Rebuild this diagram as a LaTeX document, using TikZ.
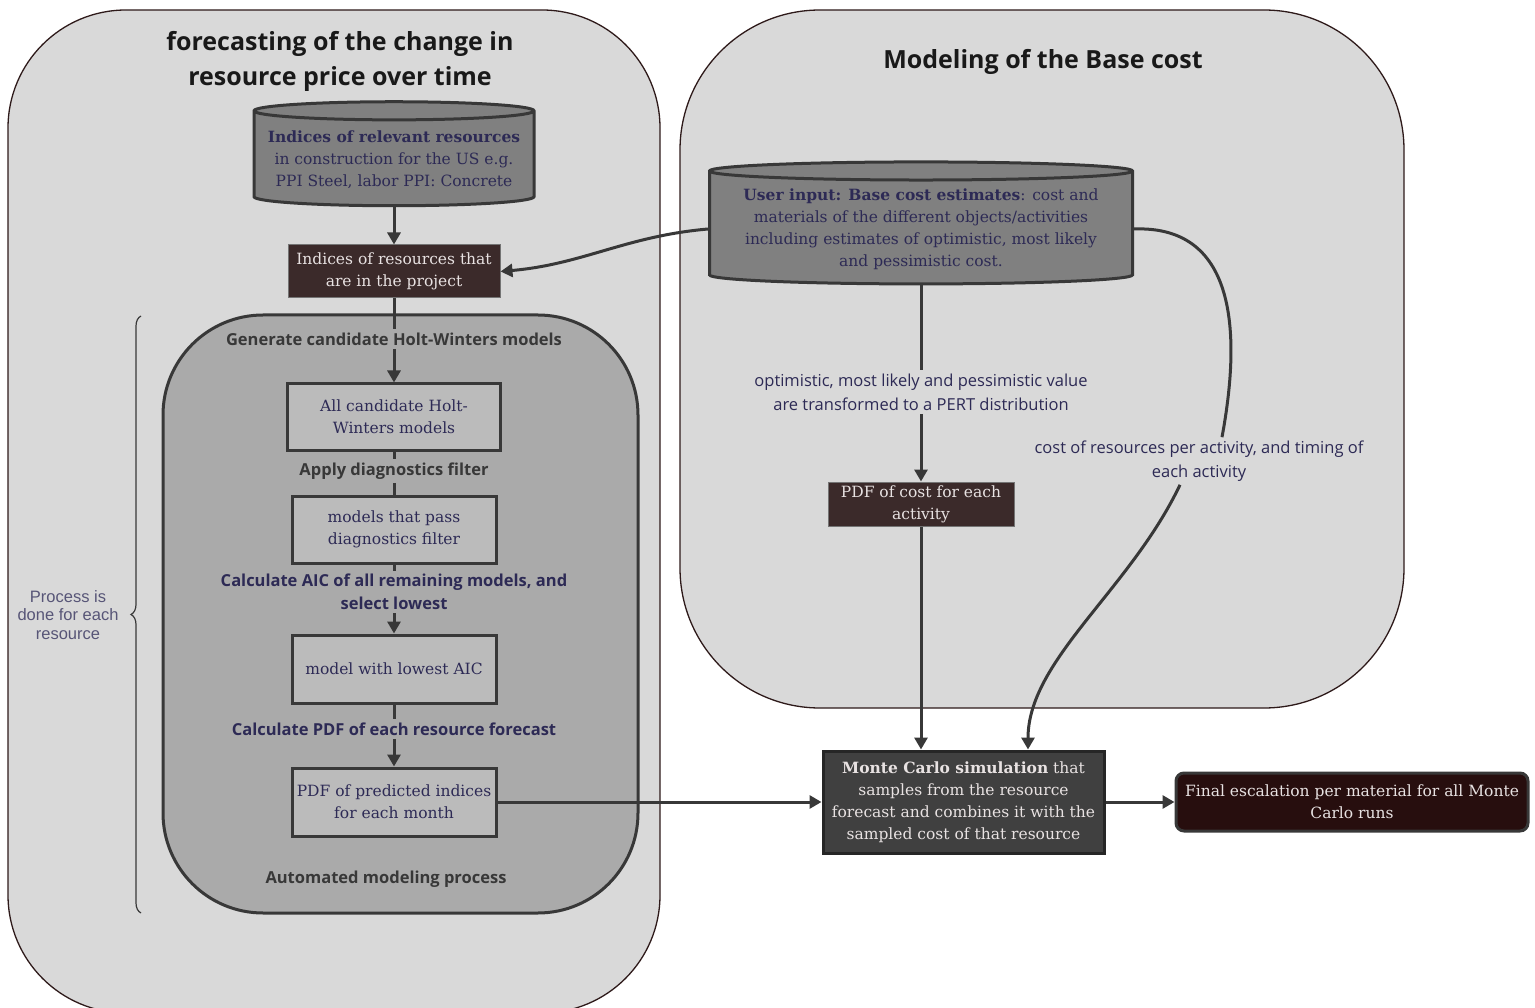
\documentclass[tikz,border=0pt]{standalone}
\usepackage{fontspec}
\setmainfont{DejaVu Serif}
\setsansfont{Open Sans}
\newfontfamily\arialfont{Liberation Sans}
\usepackage{tikz}
\usetikzlibrary{shapes,arrows.meta,positioning,decorations.pathreplacing}
\definecolor{panelbg}{HTML}{D9D9D9}
\definecolor{panelline}{HTML}{2E1A1A}
\definecolor{innerbg}{HTML}{AAAAAA}
\definecolor{darkline}{HTML}{383838}
\definecolor{dbfill}{HTML}{808080}
\definecolor{boxfill}{HTML}{BBBBBB}
\definecolor{brownbox}{HTML}{3B2A2A}
\definecolor{mcfill}{HTML}{404040}
\definecolor{finalfill}{HTML}{270E0E}
\definecolor{navy}{HTML}{2D2A55}
\definecolor{lighttext}{HTML}{E8E2E2}

\begin{document}
\begin{tikzpicture}[
    x=1pt, y=-1pt,
    panel/.style={draw=panelline, fill=panelbg, line width=1.3pt},
    inner/.style={draw=darkline, fill=innerbg, line width=3pt, rounded corners=100pt},
    db/.style={cylinder, shape border rotate=90, draw=darkline, fill=dbfill, line width=3pt, text=navy, align=center, inner ysep=0pt, font=\fontsize{15.5}{22}\selectfont},
    box/.style={rectangle, draw=darkline, fill=boxfill, line width=3pt, text=navy, align=center, inner sep=1pt, font=\fontsize{15.5}{22}\selectfont},
    dark/.style={rectangle, fill=brownbox, draw=darkline!70, line width=1pt, text=lighttext, align=center, inner sep=1pt, font=\fontsize{15.5}{22}\selectfont},
    title/.style={font=\sffamily\bfseries\fontsize{25}{35}\selectfont, text=black!90, align=center},
    stage/.style={font=\sffamily\bfseries\fontsize{16.5}{23}\selectfont, text=darkline, align=center},
    stagenavy/.style={stage, text=navy},
    flowlabel/.style={font=\sffamily\fontsize{16.5}{24}\selectfont, text=navy, align=center},
    arrow/.style={-{Triangle[length=12pt,width=13pt]}, line width=3pt, draw=darkline},
    line/.style={line width=3pt, draw=darkline}
]
\path[use as bounding box] (0,0) rectangle (1535,1008);
\clip (0,0) rectangle (1535,1008);

% Panels
\draw[panel, rounded corners=118pt] (8,10) rectangle (660,1013);
\draw[panel, rounded corners=140pt] (680,10) rectangle (1404,708);
\draw[inner] (163,315) rectangle (638,913);

% Titles
\node[title] (lefttitle) at (340,61) {forecasting of the change in\\resource price over time};
\node[title] (righttitle) at (1043,62) {Modeling of the Base cost};

% Left side
\node[db, aspect=0.07, minimum width=280pt, minimum height=104pt] (indices) at (394,160)
  {\textbf{Indices of relevant resources}\\in construction for the US e.g.\\PPI Steel, labor PPI: Concrete};
\node[dark, minimum width=212pt, minimum height=53pt] (project) at (394,271.5)
  {Indices of resources that\\are in the project};

\node[stage] (generate) at (394,339) {Generate candidate Holt-Winters models};
\node[box, minimum width=213pt, minimum height=66pt] (allmodels) at (394,417) {All candidate Holt-\\Winters models};
\node[stage] (diagnostics) at (394,471) {Apply diagnostics filter};
\node[box, minimum width=204pt, minimum height=67pt] (passed) at (394,529.5) {models that pass\\diagnostics filter};
\node[stagenavy] (aic) at (394,592) {Calculate AIC of all remaining models, and\\select lowest};
\node[box, minimum width=204pt, minimum height=68pt] (lowest) at (394,669) {model with lowest AIC};
\node[stagenavy] (pdfcalc) at (394,729) {Calculate PDF of each resource forecast};
\node[box, minimum width=204pt, minimum height=68pt] (predicted) at (394,802) {PDF of predicted indices\\for each month};
\node[stage] (automated) at (386,879) {Automated modeling process};

% Brace
\coordinate (bracelow) at (141,913);
\coordinate (bracehigh) at (141,316);
\draw[decorate, decoration={brace, amplitude=10pt}, line width=1.2pt, draw=darkline] (bracelow) -- (bracehigh);
\node[font=\arialfont\fontsize{16.5}{18.5}\selectfont, text=navy!80, align=center] (foreach) at (68,615) {Process is\\done for each\\resource};

% Right side
\node[db, aspect=0.05, minimum width=423pt, minimum height=122pt] (userinput) at (921,229)
  {\textbf{User input: Base cost estimates}: cost and\\materials of the different objects/activities\\including estimates of optimistic, most likely\\and pessimistic cost.};
\node[flowlabel] (pert) at (921,392) {optimistic, most likely and pessimistic value\\are transformed to a PERT distribution};
\node[dark, inner ysep=0pt, minimum width=186pt, minimum height=44pt] (pdfcost) at (921,504) {PDF of cost for each\\activity};
\node[flowlabel] (timing) at (1199,461) {cost of resources per activity, and timing of\\each activity};

% Bottom
\node[rectangle, draw=black!85, fill=mcfill, line width=3pt, text=lighttext, align=center, inner sep=1pt,
  minimum width=281pt, minimum height=102pt, font=\fontsize{15.5}{22}\selectfont] (montecarlo) at (963.5,802)
  {\textbf{Monte Carlo simulation} that\\samples from the resource\\forecast and combines it with the\\sampled cost of that resource};
\node[rectangle, rounded corners=8pt, draw=darkline, fill=finalfill, line width=3pt, text=lighttext, align=center, inner sep=1pt,
  minimum width=352pt, minimum height=58pt, font=\fontsize{15.5}{22}\selectfont] (final) at (1352,802)
  {Final escalation per material for all Monte\\Carlo runs};
\coordinate (mcentry) at (1028,0);

% Arrows
\draw[arrow] (indices) -- (project);
\draw[line] (project) -- (generate);
\draw[arrow] (generate) -- (allmodels);
\draw[line] (allmodels) -- (diagnostics);
\draw[line] (diagnostics) -- (passed);
\draw[line] (passed) -- (aic);
\draw[arrow] (aic) -- (lowest);
\draw[line] (lowest) -- (pdfcalc);
\draw[arrow] (pdfcalc) -- (predicted);
\draw[arrow] (userinput.west) to[out=185, in=5] (project.east);
\draw[line] (userinput) -- (pert);
\draw[arrow] (pert) -- (pdfcost);
\draw[arrow] (pdfcost.south) -- (pdfcost.south |- montecarlo.north);
\draw[line] (userinput.east) .. controls (1240,225) and (1240,340) .. ([xshift=23pt]timing.north);
\draw[arrow] ([xshift=-19pt]timing.south) .. controls (1130,590) and (1028,660) .. (montecarlo.north -| mcentry);
\draw[arrow] (predicted) -- (montecarlo);
\draw[arrow] (montecarlo) -- (final);
\end{tikzpicture}
\end{document}
